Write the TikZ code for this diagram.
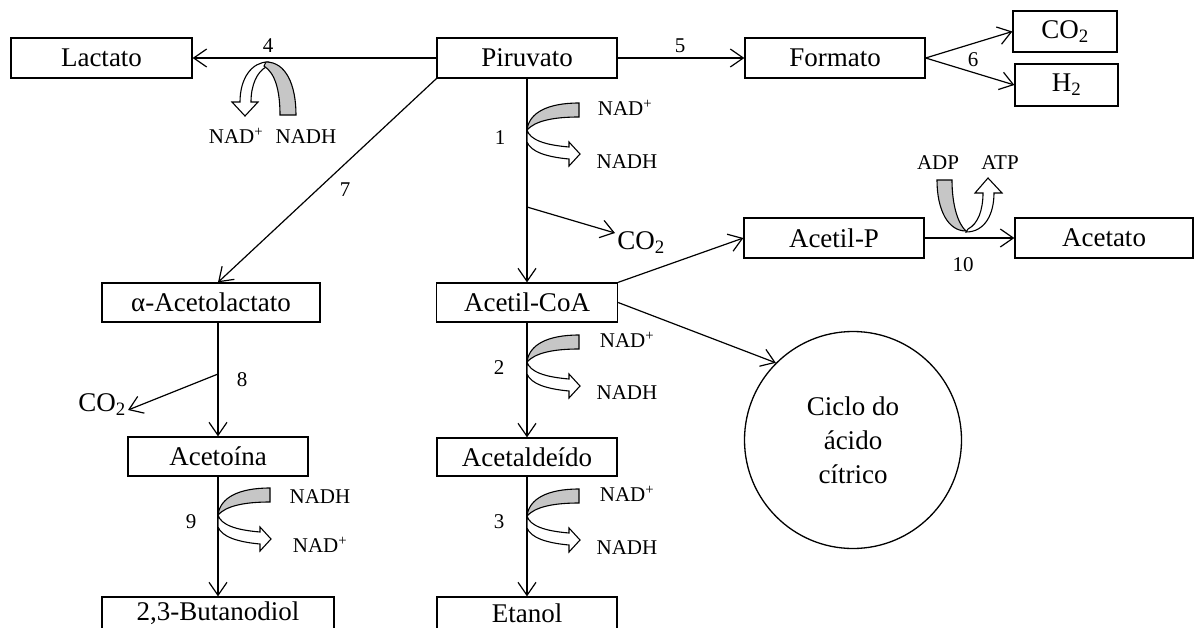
\documentclass[tikz,border=0pt]{standalone}
\usepackage{fontspec}
\setmainfont{Liberation Serif}
\usetikzlibrary{arrows.meta}
\begin{document}
\begin{tikzpicture}[x=1pt,y=-1pt,
  box/.style={draw, line width=1.3pt, minimum height=40pt, inner sep=0pt, font=\fontsize{27}{30}\selectfont},
  lbl/.style={inner sep=0pt, font=\fontsize{21}{24}\selectfont},
  big/.style={inner sep=0pt, font=\fontsize{27}{30}\selectfont},
  conn/.style={line width=1.2pt, -{Straight Barb[length=13pt,width=18pt,line width=1.2pt]}},
  graysh/.style={fill=gray!45, draw=black, line width=1.1pt},
  whitesh/.style={fill=white, draw=black, line width=1.1pt},
  redoxpic/.pic={
    \draw[graysh] (0,0) .. controls (2,-17) and (20,-27) .. (52,-27) -- (52,-13) .. controls (26,-13) and (8,-9) .. (0,0) -- cycle;
    \draw[whitesh] (0,0) .. controls (3,10) and (18,15) .. (42,17) -- (42,12) -- (53,24) -- (42,36) -- (42,29) .. controls (20,27) and (4,22) .. (0,12) -- cycle;
  }
]
\useasboundingbox (0,0) rectangle (1195,627);

% boxes
\node[box, minimum width=181pt] (lact) at (101.5,58) {Lactato};
\node[box, minimum width=180pt] (piru) at (527,58) {Piruvato};
\node[box, minimum width=180pt] (form) at (835,58) {Formato};
\node[box, minimum width=104pt, minimum height=41pt] (co2b) at (1065,31.5) {CO\textsubscript{2}};
\node[box, minimum width=103pt, minimum height=42pt] (h2b) at (1066.5,85) {H\textsubscript{2}};
\node[box, minimum width=180pt] (acp) at (834,238) {Acetil-P};
\node[box, minimum width=178pt] (acet) at (1104,238) {Acetato};
\node[box, minimum width=218pt, minimum height=39pt] (alac) at (211,302.5) {α-Acetolactato};
\node[box, minimum width=181pt, minimum height=39pt] (acoa) at (527,302.5) {Acetil-CoA};
\node[box, minimum width=180pt, minimum height=39pt] (aceto) at (218,456.5) {Acetoína};
\node[box, minimum width=180pt, minimum height=38pt] (acald) at (527,457) {Acetaldeído};
\node[box, minimum width=232pt, minimum height=32pt] (buta) at (218,613) {2,3-Butanodiol};
\node[box, minimum width=180pt, minimum height=32pt] (etan) at (527,613) {Etanol};
\node[circle, draw, line width=1.3pt, minimum size=217pt, inner sep=0pt, align=center,
      font=\fontsize{27}{34}\selectfont] (cyc) at (853,440) {Ciclo do\\ ácido\\ cítrico};

% free labels
\node[big] (co2a) at (641,243) {CO\textsubscript{2}};
\node[big] (co2c) at (102,405) {CO\textsubscript{2}};

% connectors
\draw[conn] (piru.west) -- (lact.east);
\draw[conn] (piru.east) -- (form.west);
\draw[conn] (form.east) -- (co2b.west);
\draw[conn] (form.east) -- (h2b.west);
\draw[conn] (piru.south) -- (acoa.north);
\coordinate (j1) at (527,207);
\coordinate (c1) at (615,233);
\draw[conn] (j1) -- (c1);
\draw[conn] (piru.south west) -- (alac.north -| aceto.north);
\draw[conn] (alac.south -| aceto.north) -- (aceto.north);
\coordinate (j8) at (218,374);
\coordinate (c2) at (128,410);
\draw[conn] (j8) -- (c2);
\draw[conn] (aceto.south) -- (buta.north);
\draw[conn] (acoa.south) -- (acald.north);
\draw[conn] (acald.south) -- (etan.north);
\draw[conn] (acoa.north east) -- (acp.west);
\draw[conn] (acoa.east) -- (cyc.135);
\draw[conn] (acp.east) -- (acet.west);

% redox shapes
\pic at (527,130) {redoxpic};
\pic at (527,362) {redoxpic};
\pic at (527,516) {redoxpic};
\pic at (218,515) {redoxpic};

% step 4 (lactate)
\draw[whitesh] (268,62) .. controls (252,62) and (240,78) .. (240,102) -- (232,102) -- (245,116) -- (258,102) -- (251,102) .. controls (251,85) and (257,72) .. (266,67) -- cycle;
\draw[graysh] (266,62) .. controls (286,62) and (296,85) .. (296,115) -- (280,115) .. controls (280,90) and (275,73) .. (264,66) -- cycle;

% step 10 (acetate)
\draw[graysh] (937,180) -- (952,180) .. controls (952,205) and (958,224) .. (966,231) .. controls (948,231) and (937,210) .. (937,180) -- cycle;
\draw[whitesh] (966,232) .. controls (985,232) and (994,214) .. (994,193) -- (1002,193) -- (988,178) -- (975,193) -- (983,193) .. controls (983,210) and (978,224) .. (968,229) -- cycle;

% step numbers
\node[lbl] (n4) at (268,46) {4};
\node[lbl] (n5) at (680,46) {5};
\node[lbl] (n6) at (973,60) {6};
\node[lbl] (n1) at (500,138) {1};
\node[lbl] (n7) at (345,190) {7};
\node[lbl] (n10) at (963,265) {10};
\node[lbl] (n8) at (242,380) {8};
\node[lbl] (n2) at (499,368) {2};
\node[lbl] (n9) at (191,522) {9};
\node[lbl] (n3) at (499,522) {3};

% cofactor labels
\node[lbl] (r4a) at (236,136) {NAD\textsuperscript{+}};
\node[lbl] (r4b) at (306,137) {NADH};
\node[lbl] (r1a) at (625,108) {NAD\textsuperscript{+}};
\node[lbl] (r1b) at (627,162) {NADH};
\node[lbl] (r2a) at (627,340) {NAD\textsuperscript{+}};
\node[lbl] (r2b) at (627,393) {NADH};
\node[lbl] (r3a) at (627,494) {NAD\textsuperscript{+}};
\node[lbl] (r3b) at (627,548) {NADH};
\node[lbl] (r9a) at (320,497) {NADH};
\node[lbl] (r9b) at (320,545) {NAD\textsuperscript{+}};
\node[lbl] (r10a) at (938,163) {ADP};
\node[lbl] (r10b) at (1000,163) {ATP};
\end{tikzpicture}
\end{document}
